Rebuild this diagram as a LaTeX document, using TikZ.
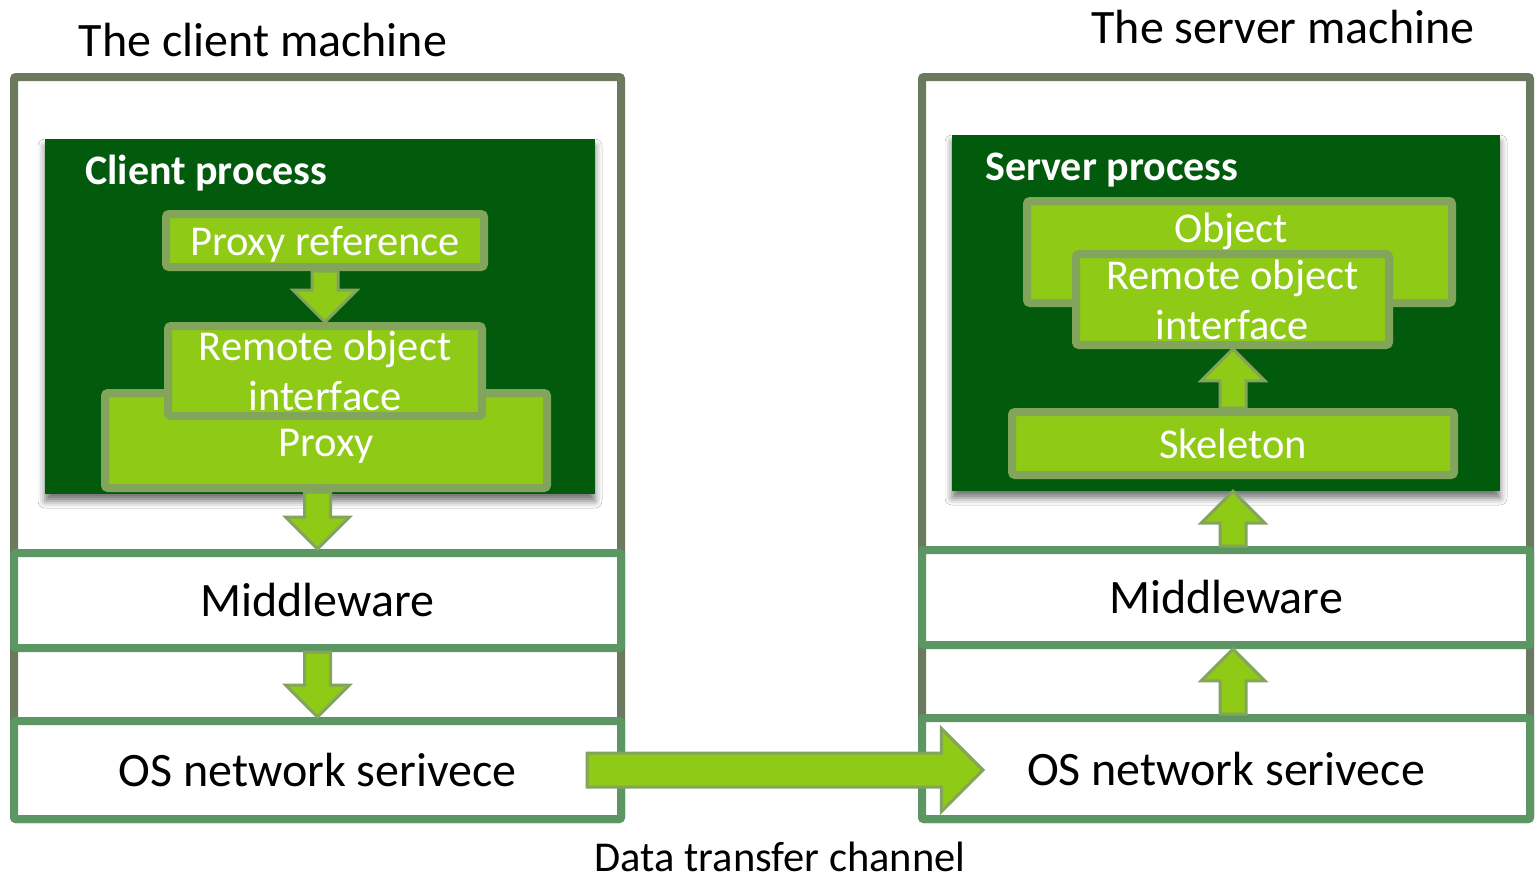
\documentclass[tikz,border=0pt]{standalone}
\usepackage{fontspec}
\setmainfont{Carlito}
\usetikzlibrary{calc,shadows.blur}

\definecolor{framegray}{RGB}{107,122,94}
\definecolor{layeredge}{RGB}{91,150,99}
\definecolor{procgreen}{RGB}{2,90,12}
\definecolor{partfill}{RGB}{143,202,23}
\definecolor{partedge}{RGB}{131,165,91}

% block arrow from #2 to #3, #1 = half width of the shaft
\newcommand*{\fatarrow}[3][13]{%
    \draw[blockarrow] let \p1=#2, \p2=#3,
            \n1={atan2(\y2-\y1,\x2-\x1)}, \n2={veclen(\x2-\x1,\y2-\y1)},
            \n3={2.45*#1} in
        [shift={(\p1)}, rotate=\n1]
        (0,#1) -- ({\n2-\n3},#1) -- ({\n2-\n3},\n3) -- (\n2,0)
        -- ({\n2-\n3},-\n3) -- ({\n2-\n3},-#1) -- (0,-#1) -- cycle;%
}

\begin{document}
\begin{tikzpicture}[x=1pt, y=-1pt,
    machine/.style={draw=framegray, line width=8pt, fill=white, inner sep=0pt, rounded corners=2pt},
    layerbox/.style={draw=layeredge, line width=8pt, fill=white, inner sep=0pt, rounded corners=2pt,
        font=\fontsize{48}{56}\selectfont},
    process/.style={fill=procgreen, inner sep=0pt,
        blur shadow={shadow xshift=0pt, shadow yshift=-7pt, shadow blur radius=7pt, shadow opacity=55}},
    proclabel/.style={text=white, inner sep=0pt, anchor=west, text height=36pt, text depth=9pt,
        font=\fontsize{42}{50}\selectfont\bfseries},
    part/.style={draw=partedge, fill=partfill, line width=8pt, rounded corners=3pt, inner sep=0pt,
        text=white, align=center, font=\fontsize{42.5}{50}\selectfont},
    partlabel/.style={text=white, inner sep=0pt, font=\fontsize{42.5}{50}\selectfont},
    heading/.style={inner sep=0pt, font=\fontsize{48}{56}\selectfont},
    blockarrow/.style={draw=partedge, fill=partfill, line width=3pt, line join=miter}]

    \useasboundingbox (0,0) rectangle (1537,879);

    % client side
    \node[machine, minimum width=607pt, minimum height=742pt] (clientbox) at (317.5,448) {};
    \node[heading] (clienttitle) at (263,40) {The client machine};
    \node[layerbox, minimum width=607pt, minimum height=95pt] (cmid) at (317.5,600.5) {Middleware};
    \node[layerbox, minimum width=607pt, minimum height=98pt] (cos) at (317.5,770) {OS network serivece};

    \node[process, minimum width=550pt, minimum height=355pt] (clientproc) at (320,316.5) {};
    \node[proclabel] (clientlbl) at (85,171) {Client process};
    \node[part, minimum width=318pt, minimum height=53pt, text height=37pt, text depth=8pt]
        (proxyref) at (325,240.5) {Proxy reference};
    \node[part, minimum width=442pt, minimum height=95pt, text height=39pt, text depth=8pt]
        (cproxy) at (326,440.5) {Proxy};
    \node[part, minimum width=314pt, minimum height=90pt] (cremote) at (325,371) {Remote object\\interface};

    % server side
    \node[machine, minimum width=608pt, minimum height=742pt] (serverbox) at (1226,448) {};
    \node[heading] (servertitle) at (1283,27) {The server machine};
    \node[layerbox, minimum width=608pt, minimum height=95pt] (smid) at (1226,597.5) {Middleware};
    \node[layerbox, minimum width=608pt, minimum height=101pt] (sos) at (1226,768.5) {OS network serivece};

    \node[process, minimum width=548pt, minimum height=356pt] (serverproc) at (1226,313) {};
    \node[proclabel] (serverlbl) at (985,167) {Server process};
    \node[part, minimum width=425pt, minimum height=102pt] (sobject) at (1239.5,252) {};
    \node[partlabel, text height=35pt, text depth=8pt] (objlbl) at (1231,229) {Object};
    \node[part, minimum width=313pt, minimum height=91pt] (sremote) at (1232.5,299.5) {Remote object\\interface};
    \node[part, minimum width=442pt, minimum height=63pt] (skeleton) at (1233,443.5) {Skeleton};

    % call path
    \fatarrow{(proxyref.south)}{(cremote.north)}
    \fatarrow{(cproxy.south -| cmid.north)}{(cmid.north)}
    \fatarrow{(cmid.south)}{(cos.north)}
    \fatarrow{(sos.north -| skeleton.center)}{(smid.south -| skeleton.center)}
    \fatarrow{(smid.north -| skeleton.center)}{(serverproc.south -| skeleton.center)}
    \fatarrow{(skeleton.north)}{(skeleton.north |- sremote.south)}

    \coordinate (datatail) at (587,770);
    \coordinate (datahead) at (983,770);
    \fatarrow[17]{(datatail)}{(datahead)}
    \node[heading, font=\fontsize{42.5}{50}\selectfont] (channel) at (780,857) {Data transfer channel};

\end{tikzpicture}
\end{document}
